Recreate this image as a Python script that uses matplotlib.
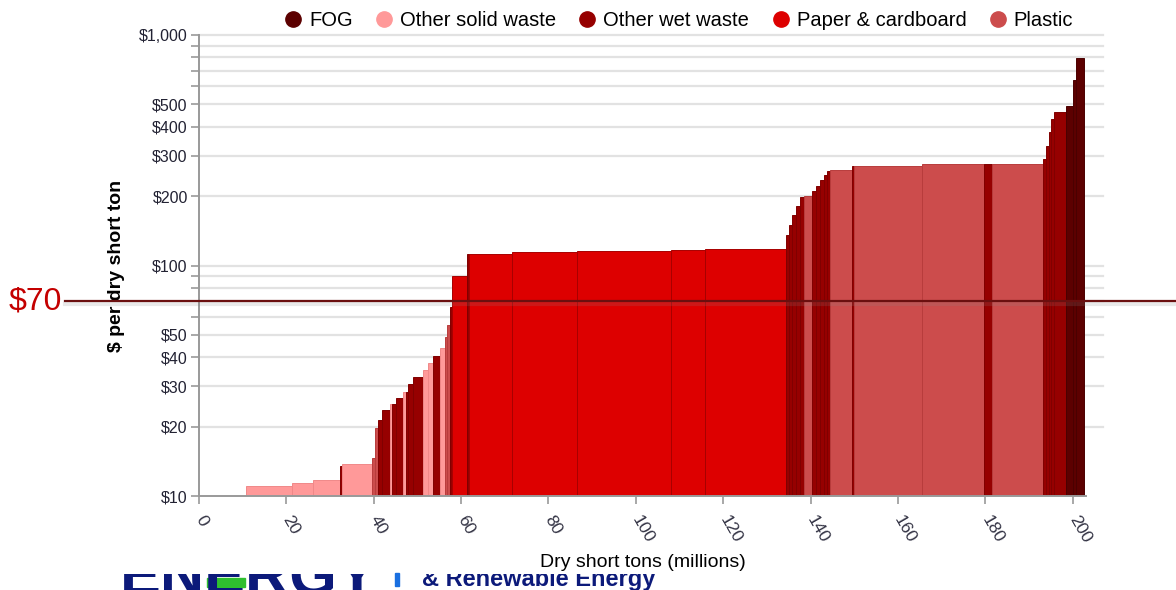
import numpy as np
import matplotlib
matplotlib.use("Agg")
import matplotlib.pyplot as plt
import matplotlib.transforms as mtransforms
from matplotlib.lines import Line2D
from matplotlib.patches import Rectangle

plt.rcParams['font.family'] = ['Liberation Sans', 'DejaVu Sans']

# resource categories and colours
categories = ["FOG", "Other solid waste", "Other wet waste", "Paper & cardboard", "Plastic"]
fill_colors = {"FOG": "#5c0000", "Other solid waste": "#ff9999", "Other wet waste": "#960000",
               "Paper & cardboard": "#dd0000", "Plastic": "#cc4c4c"}
edge_colors = {"FOG": "#4a0000", "Other solid waste": "#f08888", "Other wet waste": "#800000",
               "Paper & cardboard": "#a80000", "Plastic": "#b83c3c"}

# supply curve: quantity (million dry short tons), price ($/dry short ton), category
quantity = [10.8, 10.5, 4.8, 6.2, 0.4, 6.85, 0.75, 0.7, 0.9, 1.85,
            0.45, 0.9, 1.6, 0.6, 0.55, 1.15, 2.3, 1.1, 1.2, 1.6,
            1.1, 0.5, 0.6, 0.5, 3.4, 0.6, 9.7, 14.9, 21.5, 7.9,
            18.5, 0.7, 0.7, 0.9, 0.9, 0.8, 1.9, 0.9, 0.9, 0.9,
            0.8, 0.7, 5.0, 0.5, 15.5, 14.1, 1.9, 11.6, 0.7, 0.7,
            0.5, 0.6, 2.9, 1.5, 0.8, 1.7]
price = [8, 11.1, 11.35, 11.7, 13.5, 13.8, 14.6, 19.7, 21.4, 23.6,
         25.1, 25.1, 26.7, 28.4, 28.4, 30.6, 32.8, 35.2, 37.8, 40.5,
         43.8, 48.9, 55, 66, 90, 112, 112, 114.5, 116, 117,
         118.5, 136, 150, 165, 182, 198, 200, 210, 222, 235,
         248, 258, 260, 271, 271, 275, 275, 275, 290, 330,
         380, 430, 465, 492, 640, 792]
S, W, P, L, F = ("Other solid waste", "Other wet waste", "Paper & cardboard",
                 "Plastic", "FOG")
category = [S, S, S, S, W, S, L, L, W, W,
            S, W, W, S, W, W, W, S, S, W,
            S, L, L, W, P, W, P, P, P, P,
            P, W, W, W, W, W, L, W, W, W,
            W, W, L, W, L, L, W, L, W, W,
            W, W, W, F, F, F]

y_major = [10, 20, 30, 40, 50, 100, 200, 300, 400, 500, 1000]
y_minor = [60, 70, 80, 90, 600, 700, 800, 900]
x_ticks = list(range(0, 201, 20))
threshold = 70

fig = plt.figure(figsize=(11.76, 5.9), dpi=100)
ax = fig.add_axes([198.9 / 1176, 1 - 496 / 590, 887 / 1176, 461 / 590])
ax.set_yscale('log')

lefts = np.concatenate([[0], np.cumsum(quantity)[:-1]])
ax.bar(lefts, price, width=quantity, align='edge',
       color=[fill_colors[c] for c in category],
       edgecolor=[edge_colors[c] for c in category], linewidth=0.7, zorder=2)

ax.set_xlim(0, 203)
ax.set_ylim(10, 1000)

# horizontal grid running a little past the plot
for v in y_major[1:] + y_minor:
    ax.plot([0, 207], [v, v], color='#e2e2e2', lw=1.6, zorder=1, clip_on=False)

ax.set_yticks(y_major)
ax.set_yticklabels(['$' + format(v, ',') for v in y_major])
ax.set_yticks(y_minor, minor=True)
ax.tick_params(axis='y', which='both', length=6, width=1.2, color='#999999',
               labelsize=11.5, labelcolor='#222233', pad=2)
ax.tick_params(axis='y', which='minor', labelleft=False)

ax.set_xticks(x_ticks)
ax.set_xticklabels([str(v) for v in x_ticks], rotation=-60, rotation_mode='anchor',
                   ha='left', va='center')
ax.tick_params(axis='x', length=6, width=1.2, color='#999999', labelsize=12.5,
               labelcolor='#333344', pad=9)

for side in ['top', 'right']:
    ax.spines[side].set_visible(False)
for side in ['left', 'bottom']:
    ax.spines[side].set_color('#999999')
    ax.spines[side].set_linewidth(1.4)

ax.set_ylabel('$ per dry short ton', fontsize=14, fontweight='semibold', labelpad=10)
ax.set_xlabel('Dry short tons (millions)', fontsize=14, labelpad=6)

# legend above the plot
handles = [Line2D([], [], marker='o', ls='none', markersize=11,
                  markerfacecolor=fill_colors[c], markeredgecolor=fill_colors[c])
           for c in categories]
fig.legend(handles, categories, loc='upper center', bbox_to_anchor=(0.574, 1.012),
           ncol=5, frameon=False, fontsize=14.5, handletextpad=0.0,
           columnspacing=0.75, handlelength=1.6)

# $70 reference line across the whole figure
trans = mtransforms.blended_transform_factory(fig.transFigure, ax.transData)
shadow = mtransforms.offset_copy(trans, fig=fig, x=0, y=-3, units='dots')
ax.plot([65 / 1176, 1], [threshold, threshold], color='#888888', lw=3, alpha=0.18,
        transform=shadow, clip_on=False, zorder=4)
ax.plot([65 / 1176, 1], [threshold, threshold], color='#6b0f0f', lw=1.6,
        transform=trans, clip_on=False, zorder=5)
ax.text(9 / 1176, threshold, '$' + str(threshold), transform=trans, color='#c40000',
        fontsize=23, ha='left', va='center')

# logo strip at the bottom, mostly hidden
logo_clip = Rectangle((0, 0), 1, 16 / 590, transform=fig.transFigure)
logo1 = fig.text(120 / 1176, -6 / 590, 'ENERGY', fontsize=44, fontweight='bold',
                 color='#0c1a7a', ha='left', va='baseline')
logo1.set_clip_path(logo_clip)
fig.patches.append(Rectangle((207 / 1176, 3 / 590), 38 / 1176, 9 / 590,
                             transform=fig.transFigure, color='#2fbf2f', zorder=3))
fig.patches.append(Rectangle((395 / 1176, 4 / 590), 4 / 1176, 13 / 590,
                             transform=fig.transFigure, color='#1a6fe0'))
logo2 = fig.text(422 / 1176, 4 / 590, '& Renewable Energy', fontsize=17,
                 fontweight='bold', color='#0c1a7a', ha='left', va='baseline')
logo2.set_clip_path(logo_clip)

fig.savefig('out.png', dpi=100)
